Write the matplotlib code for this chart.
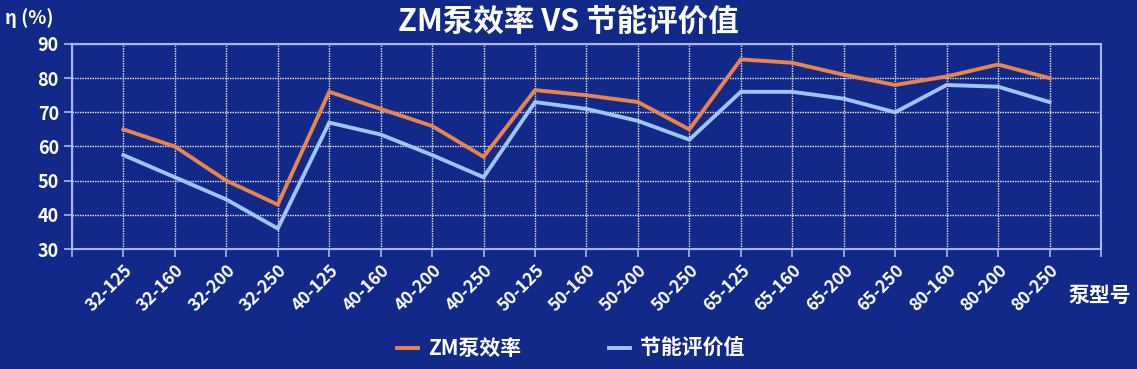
import matplotlib.pyplot as plt
from matplotlib.lines import Line2D

plt.rcParams['font.family'] = ['Noto Sans CJK SC', 'DejaVu Sans']

pumps = ['32-125', '32-160', '32-200', '32-250', '40-125', '40-160', '40-200', '40-250',
         '50-125', '50-160', '50-200', '50-250', '65-125', '65-160', '65-200', '65-250',
         '80-160', '80-200', '80-250']
zm_eff = [65, 60, 50, 43, 76, 71, 66, 57, 76.5, 75, 73, 65, 85.5, 84.5, 81, 78, 80.5, 84, 80]
energy_val = [57.5, 51, 44.5, 36, 67, 63.5, 57.5, 51, 73, 71, 67.5, 62, 76, 76, 74, 70, 78, 77.5, 73]

bg = '#13298a'
orange = '#e8844c'
light = '#9fc5f2'
frame = '#a9b6ee'

fig = plt.figure(figsize=(11.37, 3.69), dpi=100, facecolor=bg)
ax = fig.add_axes([0.0633, 0.3252, 0.9050, 0.5556], facecolor=bg)

x = list(range(len(pumps)))
ax.plot(x, zm_eff, color=orange, lw=2.8, solid_joinstyle='miter')
ax.plot(x, energy_val, color=light, lw=2.8, solid_joinstyle='miter')

ax.set_xlim(-1, len(pumps))
ax.set_ylim(30, 90)
ax.set_yticks(range(30, 91, 10))
ax.set_xticks(range(-1, len(pumps) + 1))
ax.set_xticklabels([''] + pumps + [''], rotation=45, ha='right', va='top',
                   rotation_mode='anchor', fontsize=12.5, fontweight='bold', color='white')
ax.tick_params(axis='y', labelsize=13, labelcolor='white', color=frame, length=6, width=1.2)
for lab in ax.get_yticklabels():
    lab.set_fontweight('bold')
ax.tick_params(axis='x', color=frame, length=6, width=1.2, pad=3)

ax.grid(True, color='white', ls=(0, (1, 0.8)), lw=1.0, alpha=0.9)
ax.set_axisbelow(True)
for s in ax.spines.values():
    s.set_color(frame)
    s.set_linewidth(1.5)

fig.text(0.5, 0.94, 'ZM泵效率 VS 节能评价值', ha='center', va='center',
         fontsize=22, fontweight='bold', color='white')
fig.text(0.004, 0.95, 'η (%)', ha='left', va='center', fontsize=13.5,
         fontweight='bold', color='white')
fig.text(0.995, 0.2, '泵型号', ha='right', va='center', fontsize=15,
         fontweight='bold', color='white')

handles = [Line2D([], [], color=orange, lw=2.8), Line2D([], [], color=light, lw=2.8)]
leg = fig.legend(handles, ['ZM泵效率', '节能评价值'], loc='center', bbox_to_anchor=(0.502, 0.055),
                 ncol=2, frameon=False, fontsize=15, columnspacing=4.2, handlelength=1.0,
                 handletextpad=0.5)
for t in leg.get_texts():
    t.set_color('white')
    t.set_fontweight('bold')

fig.savefig('out.png', dpi=100, facecolor=bg)
